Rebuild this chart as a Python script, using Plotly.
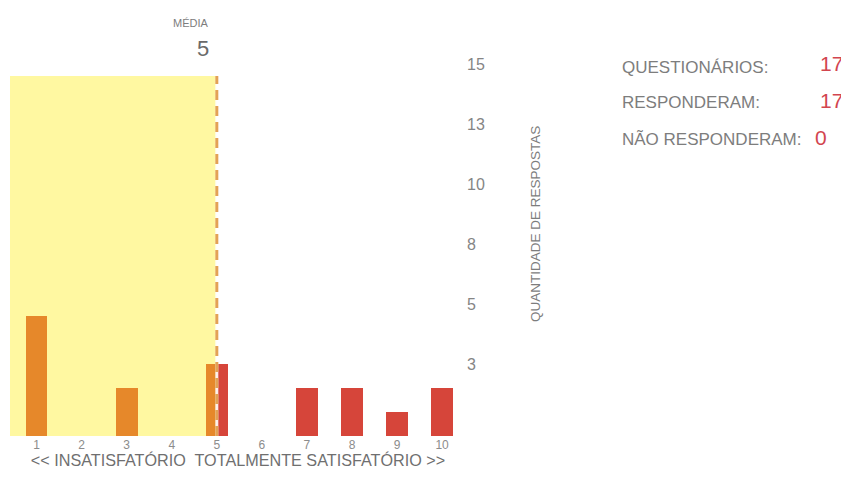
import plotly.graph_objects as go

# the page has an 8px body margin; keep the figure inside the window
PAGE_PAD = 8
W, H = 849 - PAGE_PAD, 477 - 2 * PAGE_PAD

# survey data
scores = [1, 2, 3, 4, 5, 6, 7, 8, 9, 10]
counts = [5, 0, 2, 0, 3, 0, 2, 2, 1, 2]
tick_vals = [2.5, 5, 7.5, 10, 12.5, 15]
tick_text = ["3", "5", "8", "10", "13", "15"]
x_title = "<< INSATISFATÓRIO  TOTALMENTE SATISFATÓRIO >>"
y_title = "QUANTIDADE DE RESPOSTAS"
summary_labels = ["QUESTIONÁRIOS:", "RESPONDERAM:", "NÃO RESPONDERAM:"]
summary_values = [17, 17, 0]

mean = sum(s * c for s, c in zip(scores, counts)) / sum(counts)

FONT = "Arial, Liberation Sans, sans-serif"
GRAY = "#7d7d7d"
RED = "#d6453a"
NUM_RED = "#d2454f"

# plot area in window pixels
L, R, T, B = 10, 466, 76, 436
x_range = [0.41, 10.53]
y_top = 15


def px(x):
    return (x - L) / (R - L)


def py(y):
    return (B - y) / (B - T)


fig = go.Figure()
fig.add_trace(go.Bar(
    x=scores, y=counts, width=0.48,
    marker=dict(color=RED, line=dict(width=0)),
    hoverinfo="x+y", showlegend=False,
))

shapes = [
    # yellow "below average" zone, drawn over the bars so they turn orange
    dict(type="rect", xref="x", yref="y", x0=x_range[0], x1=mean, y0=0, y1=y_top,
         fillcolor="rgba(255,238,20,0.40)", line=dict(width=0), layer="above"),
    dict(type="line", xref="x", yref="y", x0=mean, x1=mean, y0=0, y1=y_top,
         line=dict(color="rgba(255,255,255,0.9)", width=3), layer="above"),
    dict(type="line", xref="x", yref="y", x0=mean, x1=mean, y0=0, y1=y_top,
         line=dict(color="#e3a255", width=3, dash="10px,6px"), layer="above"),
]

annotations = [
    dict(text="MÉDIA", x=px(211), y=py(23), xanchor="right", yanchor="middle",
         font=dict(size=11, color=GRAY)),
    dict(text=f"{mean:g}", x=px(211), y=py(48), xanchor="right", yanchor="middle",
         font=dict(size=22, color="#6a6a6a")),
    dict(text=y_title, textangle=-90, x=px(535), y=py(224), xanchor="center", yanchor="middle",
         font=dict(size=13.5, color=GRAY)),
]
rows_y = [67, 103, 139]
for lab, val, yy in zip(summary_labels, summary_values, rows_y):
    annotations.append(dict(text=lab, x=px(620), y=py(yy), xanchor="left", yanchor="middle",
                            font=dict(size=17, color=GRAY)))
    if val >= 10:
        annotations.append(dict(text=str(val), x=px(845), y=py(yy - 3), xanchor="right",
                                yanchor="middle", font=dict(size=21, color=NUM_RED)))
    else:
        annotations.append(dict(text=str(val), x=px(821), y=py(yy - 2), xanchor="center",
                                yanchor="middle", font=dict(size=21, color=NUM_RED)))
for a in annotations:
    a.update(xref="paper", yref="paper", showarrow=False)

fig.update_layout(
    width=W, height=H,
    margin=dict(l=L - PAGE_PAD, r=W - (R - PAGE_PAD), t=T - PAGE_PAD, b=H - (B - PAGE_PAD),
                autoexpand=False),
    paper_bgcolor="white", plot_bgcolor="white",
    font=dict(family=FONT, color=GRAY),
    shapes=shapes, annotations=annotations,
    bargap=0,
    xaxis=dict(
        range=x_range, automargin=False,
        tickmode="array", tickvals=scores, ticktext=[str(s) for s in scores],
        tickfont=dict(size=12, color="#8c8c8c"),
        showgrid=False, zeroline=False, showline=False, ticks="",
        title=dict(text=x_title, font=dict(size=16.2, color="#6f6f6f"), standoff=3),
    ),
    yaxis=dict(
        range=[0, y_top], side="right", automargin=False,
        tickmode="array", tickvals=tick_vals, ticktext=tick_text,
        ticklabelposition="outside top",
        tickfont=dict(size=16, color="#858585"),
        showgrid=False, zeroline=False, showline=False, ticks="",
    ),
)

fig.write_html("out.html")
